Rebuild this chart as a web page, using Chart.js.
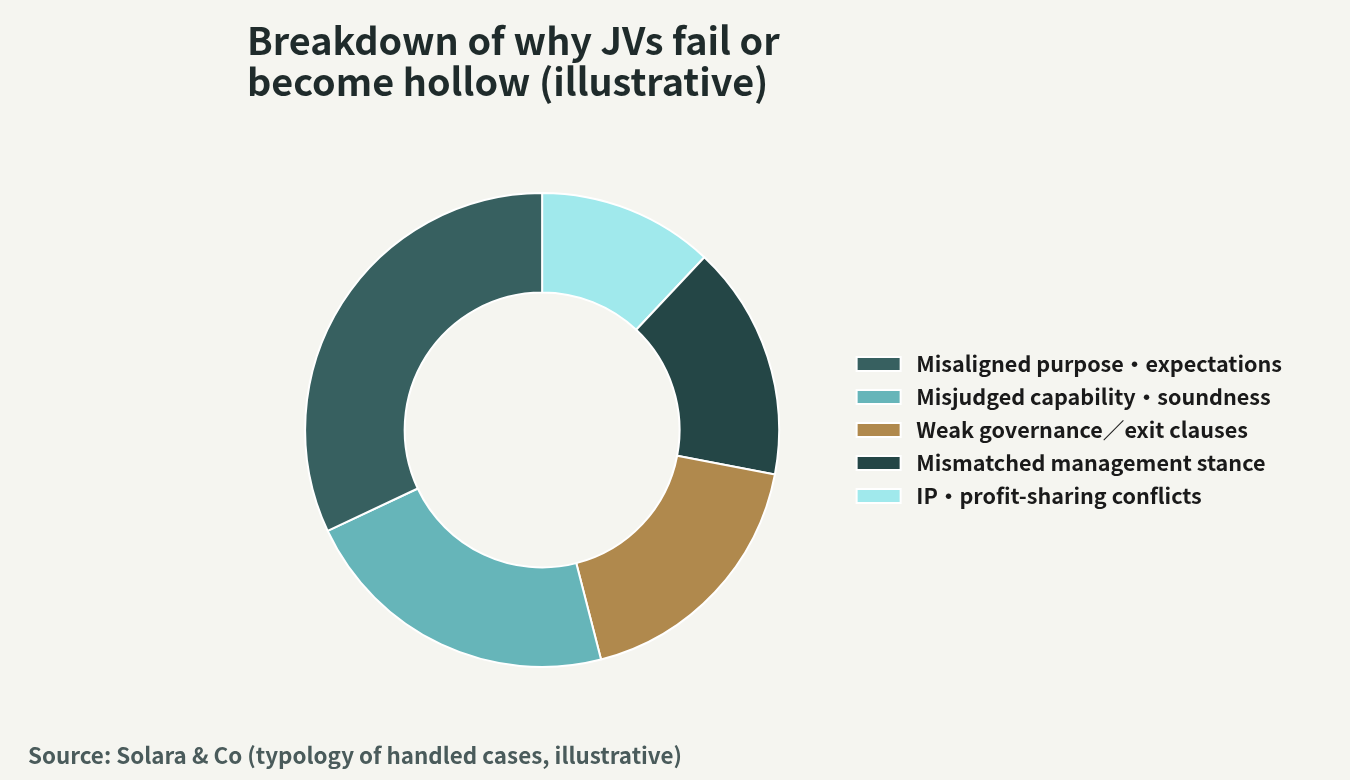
<!DOCTYPE html>
<html>
<head>
<meta charset="utf-8">
<script src="https://cdn.jsdelivr.net/npm/chart.js@4.4.1/dist/chart.umd.min.js"></script>
<style>
  html, body { margin: 0; padding: 0; background: #f5f5f0; }
  #wrap { position: relative; width: 1350px; height: 780px; }
</style>
</head>
<body>
<div id="wrap"><canvas id="jvChart" width="1350" height="780"></canvas></div>
<script>
// data, in legend order (drawn counter-clockwise from 12 o'clock)
const categories = [
    "Misaligned purpose・expectations",
    "Misjudged capability・soundness",
    "Weak governance／exit clauses",
    "Mismatched management stance",
    "IP・profit-sharing conflicts"
];
const shares = [32, 22, 18, 16, 12];
const sliceColors = ["#376060", "#66b5b9", "#b0894d", "#244646", "#a0e9ec"];

const titleLines = ["Breakdown of why JVs fail or", "become hollow (illustrative)"];
const sourceNote = "Source: Solara & Co (typology of handled cases, illustrative)";

const FONT = "'Noto Sans CJK JP', 'Noto Sans', sans-serif";
Chart.defaults.font.family = FONT;

// Chart.js goes clockwise, so feed it reversed and flip the legend back
const rev = arr => arr.slice().reverse();

const textPlugin = {
    id: 'pageText',
    afterDraw(chart) {
        const ctx = chart.ctx;
        ctx.save();
        ctx.textBaseline = 'alphabetic';
        ctx.textAlign = 'left';
        ctx.fillStyle = '#1f2b2b';
        ctx.font = "bold 37.8px " + FONT;
        ctx.fillText(titleLines[0], 247, 55);
        ctx.fillText(titleLines[1], 247, 96);
        ctx.fillStyle = '#4a5b5b';
        ctx.font = "bold 22.4px " + FONT;
        ctx.fillText(sourceNote, 28, 764);
        ctx.restore();
    }
};

const bgPlugin = {
    id: 'bg',
    beforeDraw(chart) {
        const ctx = chart.ctx;
        ctx.save();
        ctx.fillStyle = '#f5f5f0';
        ctx.fillRect(0, 0, chart.width, chart.height);
        ctx.restore();
    }
};

new Chart(document.getElementById('jvChart'), {
    type: 'doughnut',
    data: {
        labels: rev(categories),
        datasets: [{
            data: rev(shares),
            backgroundColor: rev(sliceColors),
            borderColor: '#ffffff',
            borderWidth: 2
        }]
    },
    options: {
        responsive: false,
        animation: false,
        cutout: '58%',
        layout: {
            padding: {top: 192, bottom: 112, left: 239, right: 58}
        },
        plugins: {
            legend: {
                position: 'right',
                reverse: true,
                labels: {
                    boxWidth: 44,
                    boxHeight: 14,
                    padding: 11.4,
                    color: '#1a1a1a',
                    font: {size: 21.6, weight: 'bold'},
                    generateLabels(chart) {
                        const items = Chart.overrides.doughnut.plugins.legend.labels.generateLabels(chart);
                        // a little extra gap between swatch and text
                        items.forEach(it => { it.text = ' ' + it.text; });
                        return items;
                    }
                }
            },
            tooltip: {enabled: false}
        }
    },
    plugins: [bgPlugin, textPlugin]
});
</script>
</body>
</html>
